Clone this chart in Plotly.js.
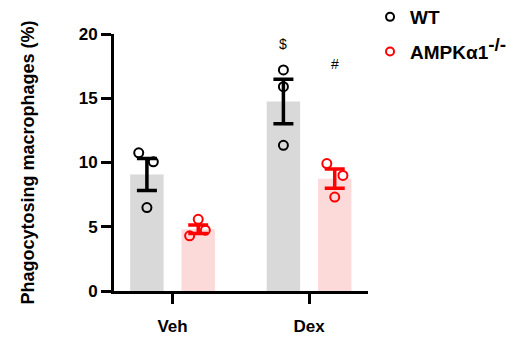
<!DOCTYPE html>
<html>
<head>
<meta charset="utf-8">
<script src="https://cdn.plot.ly/plotly-3.0.1.min.js"></script>
<style>html,body{margin:0;padding:0;background:#fff;}#chart{width:530px;height:345px;}</style>
</head>
<body>
<div id="chart"></div>
<script>
// ---- data ----
const categories = ['Veh', 'Dex'];
const seriesNames = ['WT', 'AMPKα1<sup><span style="font-size:19px">-/-</span></sup>'];
const wtMean = [9.07, 14.75];
const koMean = [4.81, 8.74];
const wtSem = [1.25, 1.73];
const koSem = [0.33, 0.75];
const wtPoints = [[10.75, 10.05, 6.49], [17.2, 15.9, 11.34]];
const koPoints = [[5.58, 4.29, 4.73], [9.92, 8.99, 7.31]];
const yTicks = [0, 5, 10, 15, 20];
const marks = [{cat: 1, series: 0, text: '$', y: 19.2}, {cat: 1, series: 1, text: '#', y: 17.7}];

// ---- layout / style constants ----
const FONT = 'Arial, "Liberation Sans", sans-serif';
const BAR_W = 0.245;
const GROUP_SHIFT = [-0.1875, 0.1885];
const JITTER = {
  0: [[-0.06, 0.047, 0.0], [0.0, 0.0, 0.0]],
  1: [[0.0, -0.063, 0.052], [-0.058, 0.06, 0.0]]
};
const BAR_COLORS = ['#d9d9d9', '#fcdada'];
const LINE_COLORS = ['#000000', '#ff0000'];

const idx = categories.map((c, i) => i);
const means = [wtMean, koMean];
const sems = [wtSem, koSem];
const pts = [wtPoints, koPoints];

const traces = [];
// bars
[0, 1].forEach(s => {
  traces.push({
    type: 'bar', x: idx, y: means[s], width: BAR_W,
    offset: GROUP_SHIFT[s] - BAR_W / 2,
    marker: {color: BAR_COLORS[s], line: {width: 0}},
    showlegend: false, hoverinfo: 'skip'
  });
});
// points
[0, 1].forEach(s => {
  const xs = [], ys = [];
  idx.forEach(i => {
    pts[s][i].forEach((v, k) => { xs.push(i + GROUP_SHIFT[s] + JITTER[s][i][k]); ys.push(v); });
  });
  traces.push({
    type: 'scatter', mode: 'markers', x: xs, y: ys,
    marker: {symbol: 'circle-open', size: 9, color: LINE_COLORS[s], line: {width: 2, color: LINE_COLORS[s]}},
    showlegend: false, hoverinfo: 'skip'
  });
});
// error bars
[0, 1].forEach(s => {
  traces.push({
    type: 'scatter', mode: 'markers', x: idx.map(i => i + GROUP_SHIFT[s]), y: means[s],
    marker: {size: 1, color: 'rgba(0,0,0,0)'},
    error_y: {type: 'data', array: sems[s], visible: true, color: LINE_COLORS[s], thickness: 3.5, width: 10},
    showlegend: false, hoverinfo: 'skip'
  });
});
// legend entries
[0, 1].forEach(s => {
  traces.push({
    type: 'scatter', mode: 'markers', x: [null], y: [null], name: seriesNames[s],
    legendgroup: 'g' + s,
    marker: {symbol: 'circle-open', size: 8, color: LINE_COLORS[s], line: {width: 2, color: LINE_COLORS[s]}}
  });
});

const layout = {
  width: 530, height: 345,
  margin: {l: 114, r: 162, t: 34, b: 54, pad: 0, autoexpand: false},
  paper_bgcolor: '#fff', plot_bgcolor: '#fff',
  barmode: 'overlay',
  font: {family: FONT, color: '#000'},
  xaxis: {
    range: [-0.4286, 1.4322], tickvals: idx, ticktext: categories,
    showgrid: false, zeroline: false, showline: true, linewidth: 3, linecolor: '#000',
    ticks: 'outside', ticklen: 10, tickwidth: 3, tickcolor: '#000',
    tickfont: {family: FONT, size: 17, weight: 'bold', color: '#000'},
    ticklabelstandoff: 8, fixedrange: true
  },
  yaxis: {
    range: [0, 20], tickvals: yTicks,
    showgrid: false, zeroline: false, showline: true, linewidth: 3, linecolor: '#000',
    ticks: 'outside', ticklen: 10, tickwidth: 3, tickcolor: '#000',
    tickfont: {family: FONT, size: 17, weight: 'bold', color: '#000'},
    title: {text: 'Phagocytosing macrophages (%)', font: {family: FONT, size: 18, weight: 'bold', color: '#000'}, standoff: 40},
    automargin: false, fixedrange: true
  },
  legend: {
    x: 1.008, y: 1.14, xanchor: 'left', yanchor: 'top',
    font: {family: FONT, size: 19, weight: 'bold', color: '#000'},
    traceorder: 'grouped', tracegroupgap: 7, bgcolor: 'rgba(0,0,0,0)'
  },
  annotations: marks.map(m => ({
    x: m.cat + GROUP_SHIFT[m.series], y: m.y, xref: 'x', yref: 'y', text: m.text,
    showarrow: false, font: {family: FONT, size: 14, color: '#000'}
  }))
};

Plotly.newPlot('chart', traces, layout, {displayModeBar: false, staticPlot: true});
</script>
</body>
</html>
